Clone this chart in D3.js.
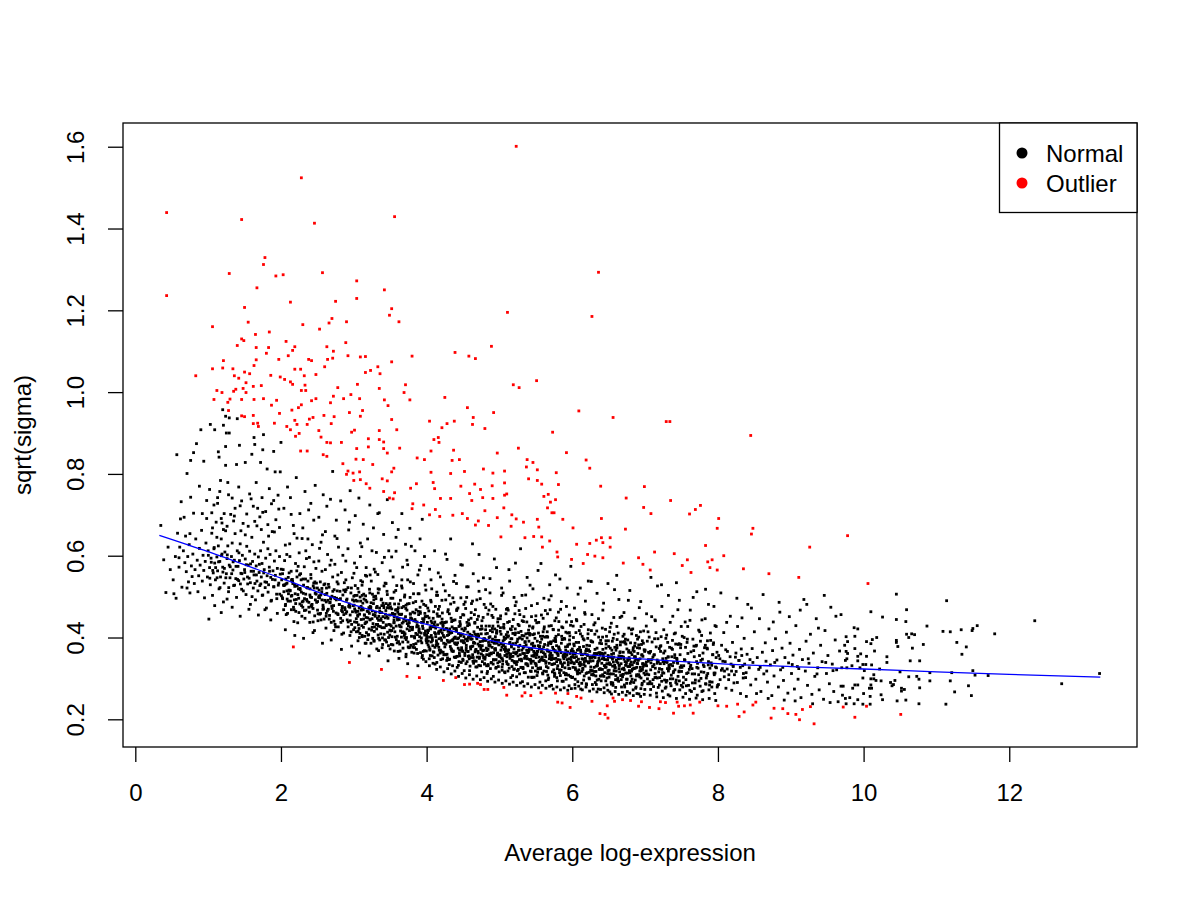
<!DOCTYPE html>
<html>
<head>
<meta charset="utf-8">
<script src="https://cdn.jsdelivr.net/npm/d3@7"></script>
<style>
  body { margin: 0; background: #fff; }
  svg { display: block; font-family: "Liberation Sans", Arial, Helvetica, sans-serif; }
</style>
</head>
<body>
<div id="chart"></div>
<script>
// plotSA style: sqrt(sigma) against average log-expression
// points are flat [x, y, x, y, ...] lists

const xTicks = [0, 2, 4, 6, 8, 10, 12];
const yTicks = [0.2, 0.4, 0.6, 0.8, 1.0, 1.2, 1.4, 1.6];
const xDomain = [-0.169, 13.754];
const yDomain = [0.1323, 1.658];

const legendLabels = ['Normal', 'Outlier'];
const legendColors = ['#000000', '#ff0000'];

const trendX = [0.33, 1, 2, 3, 4, 5, 6, 7, 8, 9, 10, 11, 12, 13.25];
const trendY = [.65, .61, .545, .48, .432, .388, .362, .347, .336, .329, .323, .316, .31, .303];

// normal genes, x < 2
const normalA = [
  0.35,.674, 0.39,.590, 0.42,.510, 0.57,.847, 0.56,.496, 0.71,.801, 0.63,.732, 0.62,.690, 0.60,.595, 0.60,.572,
  0.76,.833, 0.80,.852, 0.84,.874, 0.90,.908, 0.76,.743, 0.75,.654, 0.73,.536, 0.75,.509, 0.94,.831, 0.88,.770,
  0.80,.704, 1.01,.445, 1.03,.921, 1.09,.908, 1.14,.854, 1.15,.841, 1.20,.957, 1.24,.941, 1.21,.919, 1.25,.900,
  1.29,.900, 1.24,.867, 1.24,.821, 1.13,.742, 0.98,.735, 1.17,.784, 1.40,.935, 1.29,.937, 1.43,.870, 1.39,.823,
  1.51,.828, 1.63,.889, 1.64,.872, 1.76,.896, 1.72,.828, 1.60,.848, 1.75,.859, 1.90,.855, 2.00,.877, 1.81,.812,
  1.92,.805, 1.99,.805, 1.18,.691, 1.19,.680, 0.92,.703, 0.98,.691, 0.61,.621,
  0.66,.612, 0.68,.583, 0.70,.561, 0.72,.598, 0.74,.627, 0.77,.575, 0.78,.549, 0.79,.604, 0.81,.532, 0.82,.566,
  0.83,.641, 0.85,.589, 0.86,.512, 0.87,.551, 0.88,.618, 0.89,.577, 0.91,.662, 0.92,.538, 0.93,.601, 0.94,.564,
  0.95,.497, 0.96,.586, 0.97,.631, 0.99,.548, 1.00,.612, 1.02,.571, 1.03,.529, 1.04,.594, 1.05,.655, 1.06,.503,
  1.07,.558, 1.08,.617, 1.09,.582, 1.10,.541, 1.11,.682, 1.12,.597, 1.13,.563, 1.14,.624, 1.15,.519, 1.16,.586,
  1.17,.548, 1.18,.641, 1.19,.604, 1.20,.572, 1.21,.487, 1.22,.533, 1.23,.609, 1.24,.661, 1.25,.556, 1.26,.593,
  1.27,.624, 1.28,.512, 1.29,.577, 1.30,.546, 1.31,.701, 1.32,.598, 1.33,.631, 1.34,.565, 1.35,.527, 1.36,.589,
  1.37,.654, 1.38,.544, 1.39,.498, 1.40,.612, 1.41,.574, 1.42,.539, 1.43,.588, 1.44,.629, 1.45,.557, 1.46,.518,
  1.47,.601, 1.48,.679, 1.49,.543, 1.50,.566, 1.51,.592, 1.52,.505, 1.53,.623, 1.54,.548, 1.55,.577, 1.56,.469,
  1.57,.611, 1.58,.534, 1.59,.562, 1.60,.645, 1.61,.586, 1.62,.521, 1.63,.553, 1.64,.604, 1.65,.492, 1.66,.575,
  1.67,.538, 1.68,.716, 1.69,.597, 1.70,.559, 1.71,.527, 1.72,.612, 1.73,.548, 1.74,.581, 1.75,.504, 1.76,.633,
  1.77,.566, 1.78,.536, 1.79,.594, 1.80,.472, 1.81,.551, 1.82,.617, 1.83,.529, 1.84,.572, 1.85,.603, 1.86,.547,
  1.87,.491, 1.88,.659, 1.89,.563, 1.90,.524, 1.91,.587, 1.92,.541, 1.93,.612, 1.94,.506, 1.95,.569, 1.96,.748,
  1.97,.533, 1.98,.598, 1.99,.555,
  1.02,.762, 1.08,.724, 1.16,.757, 1.22,.703, 1.27,.779, 1.33,.741, 1.37,.716, 1.42,.768, 1.46,.734, 1.53,.702,
  1.57,.751, 1.62,.721, 1.66,.779, 1.71,.695, 1.74,.742, 1.79,.708, 1.84,.764, 1.87,.727, 1.93,.688, 1.97,.714,
  1.06,.668, 1.12,.645, 1.26,.672, 1.35,.685, 1.45,.661, 1.55,.672, 1.64,.684, 1.73,.664, 1.82,.676, 1.91,.658,
  1.09,.478, 1.18,.461, 1.33,.474, 1.44,.452, 1.58,.481, 1.69,.455, 1.78,.468, 1.86,.443, 1.95,.459, 1.26,.494,
  0.45,.621, 0.48,.566, 0.52,.541, 0.55,.598, 0.58,.655, 0.64,.523, 0.67,.694, 0.69,.648, 0.71,.521, 0.53,.507
];

// normal genes, 2 to 4
const normalB = [
  2.01,.541, 2.02,.497, 2.03,.566, 2.04,.512, 2.05,.588, 2.06,.478, 2.07,.531, 2.08,.603, 2.09,.459, 2.10,.547,
  2.11,.516, 2.12,.629, 2.13,.489, 2.14,.562, 2.15,.503, 2.16,.537, 2.17,.674, 2.18,.468, 2.19,.525, 2.20,.581,
  2.21,.493, 2.22,.548, 2.23,.436, 2.24,.519, 2.25,.607, 2.26,.482, 2.27,.556, 2.28,.511, 2.29,.642, 2.30,.474,
  2.31,.528, 2.32,.573, 2.33,.447, 2.34,.506, 2.35,.593, 2.36,.489, 2.37,.538, 2.38,.712, 2.39,.462, 2.40,.519,
  2.41,.554, 2.42,.498, 2.43,.627, 2.44,.471, 2.45,.533, 2.46,.417, 2.47,.508, 2.48,.569, 2.49,.486, 2.50,.521,
  2.51,.458, 2.52,.587, 2.53,.497, 2.54,.536, 2.55,.443, 2.56,.512, 2.57,.651, 2.58,.474, 2.59,.529, 2.60,.491,
  2.61,.566, 2.62,.452, 2.63,.508, 2.64,.603, 2.65,.469, 2.66,.523, 2.67,.485, 2.68,.738, 2.69,.437, 2.70,.501,
  2.71,.548, 2.72,.464, 2.73,.517, 2.74,.579, 2.75,.426, 2.76,.492, 2.77,.536, 2.78,.458, 2.79,.621, 2.80,.481,
  2.81,.513, 2.82,.447, 2.83,.559, 2.84,.472, 2.85,.504, 2.86,.411, 2.87,.534, 2.88,.468, 2.89,.587, 2.90,.491,
  2.91,.443, 2.92,.522, 2.93,.476, 2.94,.682, 2.95,.455, 2.96,.509, 2.97,.432, 2.98,.546, 2.99,.478, 3.00,.501,
  3.01,.438, 3.02,.527, 3.03,.462, 3.04,.571, 3.05,.489, 3.06,.415, 3.07,.511, 3.08,.457, 3.09,.598, 3.10,.476,
  3.11,.429, 3.12,.536, 3.13,.468, 3.14,.494, 3.15,.403, 3.16,.552, 3.17,.449, 3.18,.487, 3.19,.641, 3.20,.463,
  3.21,.421, 3.22,.509, 3.23,.472, 3.24,.538, 3.25,.446, 3.26,.398, 3.27,.483, 3.28,.567, 3.29,.455, 3.30,.501,
  3.31,.432, 3.32,.476, 3.33,.703, 3.34,.442, 3.35,.518, 3.36,.461, 3.37,.409, 3.38,.494, 3.39,.583, 3.40,.451,
  3.41,.478, 3.42,.424, 3.43,.533, 3.44,.466, 3.45,.389, 3.46,.505, 3.47,.447, 3.48,.612, 3.49,.472, 3.50,.431,
  3.51,.496, 3.52,.417, 3.53,.459, 3.54,.548, 3.55,.436, 3.56,.482, 3.57,.401, 3.58,.468, 3.59,.527, 3.60,.443,
  3.61,.664, 3.62,.457, 3.63,.384, 3.64,.491, 3.65,.426, 3.66,.473, 3.67,.572, 3.68,.438, 3.69,.412, 3.70,.504,
  3.71,.451, 3.72,.395, 3.73,.467, 3.74,.541, 3.75,.429, 3.76,.483, 3.77,.376, 3.78,.448, 3.79,.623, 3.80,.419,
  3.81,.462, 3.82,.507, 3.83,.402, 3.84,.444, 3.85,.488, 3.86,.371, 3.87,.431, 3.88,.553, 3.89,.456, 3.90,.413,
  3.91,.474, 3.92,.392, 3.93,.437, 3.94,.689, 3.95,.422, 3.96,.481, 3.97,.368, 3.98,.451, 3.99,.516, 4.00,.406,
  2.04,.716, 2.09,.768, 2.13,.742, 2.21,.791, 2.26,.703, 2.33,.757, 2.41,.728, 2.47,.772, 2.52,.694, 2.58,.749,
  2.63,.721, 2.71,.806, 2.76,.687, 2.82,.734, 2.88,.712, 2.95,.759, 3.02,.698, 3.07,.741, 3.13,.677, 3.22,.724,
  3.27,.668, 3.35,.705, 3.41,.652, 3.46,.737, 3.53,.681, 3.58,.645, 3.66,.703, 3.71,.628, 3.77,.667, 3.84,.612,
  3.91,.641, 3.97,.598, 2.18,.654, 2.37,.641, 2.55,.633, 2.74,.648, 2.92,.617, 3.11,.622, 3.31,.608, 3.52,.597,
  3.73,.589, 3.92,.576,
  2.06,.419, 2.19,.405, 2.31,.398, 2.44,.412, 2.57,.386, 2.69,.394, 2.83,.371, 2.97,.379, 3.08,.362, 3.21,.355,
  3.34,.368, 3.47,.343, 3.62,.349, 3.74,.336, 3.88,.331, 3.99,.341,
  2.035,.528, 2.085,.494, 2.145,.541, 2.195,.507, 2.255,.553, 2.305,.489, 2.355,.522, 2.415,.478, 2.465,.536, 2.525,.502,
  2.575,.469, 2.625,.521, 2.675,.486, 2.735,.498, 2.785,.531, 2.845,.463, 2.895,.517, 2.945,.474, 3.005,.489, 3.055,.452,
  3.115,.503, 3.165,.437, 3.225,.476, 3.275,.492, 3.335,.428, 3.385,.461, 3.445,.483, 3.495,.418, 3.555,.451, 3.605,.469,
  3.665,.412, 3.715,.441, 3.775,.458, 3.835,.399, 3.885,.427, 3.945,.446, 3.995,.392,
  2.072,.456, 2.123,.598, 2.178,.439, 2.236,.574, 2.287,.452, 2.341,.612, 2.396,.437, 2.452,.585, 2.508,.441, 2.563,.562,
  2.618,.423, 2.673,.577, 2.727,.417, 2.781,.553, 2.836,.408, 2.891,.541, 2.947,.405, 3.002,.557, 3.058,.392, 3.113,.528,
  3.168,.386, 3.224,.553, 3.279,.391, 3.334,.519, 3.389,.375, 3.443,.532, 3.498,.372, 3.553,.511, 3.608,.366, 3.663,.521,
  3.718,.359, 3.773,.498, 3.828,.362, 3.883,.507, 3.937,.351, 3.989,.478
];

// normal genes, 4 to 6
const normalC = [
  4.01,.437, 4.02,.382, 4.03,.465, 4.04,.401, 4.05,.356, 4.06,.428, 4.07,.519, 4.08,.393, 4.09,.447, 4.10,.364,
  4.11,.412, 4.12,.476, 4.13,.381, 4.14,.339, 4.15,.431, 4.16,.558, 4.17,.397, 4.18,.452, 4.19,.369, 4.20,.418,
  4.21,.491, 4.22,.348, 4.23,.405, 4.24,.436, 4.25,.377, 4.26,.604, 4.27,.422, 4.28,.359, 4.29,.463, 4.30,.389,
  4.31,.334, 4.32,.411, 4.33,.482, 4.34,.371, 4.35,.426, 4.36,.395, 4.37,.537, 4.38,.352, 4.39,.443, 4.40,.384,
  4.41,.416, 4.42,.327, 4.43,.472, 4.44,.399, 4.45,.361, 4.46,.429, 4.47,.578, 4.48,.375, 4.49,.408, 4.50,.344,
  4.51,.455, 4.52,.387, 4.53,.421, 4.54,.336, 4.55,.498, 4.56,.392, 4.57,.366, 4.58,.434, 4.59,.319, 4.60,.403,
  4.61,.447, 4.62,.378, 4.63,.629, 4.64,.351, 4.65,.414, 4.66,.386, 4.67,.468, 4.68,.342, 4.69,.397, 4.70,.425,
  4.71,.362, 4.72,.513, 4.73,.381, 4.74,.331, 4.75,.409, 4.76,.441, 4.77,.368, 4.78,.546, 4.79,.393, 4.80,.347,
  4.81,.419, 4.82,.374, 4.83,.312, 4.84,.457, 4.85,.388, 4.86,.356, 4.87,.402, 4.88,.482, 4.89,.339, 4.90,.376,
  4.91,.428, 4.92,.363, 4.93,.592, 4.94,.394, 4.95,.325, 4.96,.411, 4.97,.357, 4.98,.446, 4.99,.382, 5.00,.341,
  5.01,.415, 5.02,.369, 5.03,.503, 5.04,.348, 5.05,.392, 5.06,.432, 5.07,.316, 5.08,.377, 5.09,.458, 5.10,.359,
  5.11,.401, 5.12,.334, 5.13,.566, 5.14,.386, 5.15,.421, 5.16,.353, 5.17,.397, 5.18,.307, 5.19,.444, 5.20,.372,
  5.21,.338, 5.22,.411, 5.23,.487, 5.24,.364, 5.25,.396, 5.26,.322, 5.27,.429, 5.28,.381, 5.29,.617, 5.30,.347,
  5.31,.405, 5.32,.361, 5.33,.439, 5.34,.314, 5.35,.388, 5.36,.471, 5.37,.354, 5.38,.399, 5.39,.331, 5.40,.418,
  5.41,.372, 5.42,.528, 5.43,.343, 5.44,.384, 5.45,.302, 5.46,.426, 5.47,.366, 5.48,.409, 5.49,.337, 5.50,.453,
  5.51,.358, 5.52,.391, 5.53,.323, 5.54,.437, 5.55,.374, 5.56,.344, 5.57,.581, 5.58,.396, 5.59,.352, 5.60,.414,
  5.61,.318, 5.62,.383, 5.63,.466, 5.64,.341, 5.65,.402, 5.66,.367, 5.67,.297, 5.68,.428, 5.69,.355, 5.70,.389,
  5.71,.502, 5.72,.334, 5.73,.376, 5.74,.419, 5.75,.348, 5.76,.311, 5.77,.395, 5.78,.448, 5.79,.362, 5.80,.331,
  5.81,.407, 5.82,.371, 5.83,.543, 5.84,.339, 5.85,.386, 5.86,.293, 5.87,.424, 5.88,.357, 5.89,.398, 5.90,.326,
  5.91,.369, 5.92,.476, 5.93,.346, 5.94,.382, 5.95,.308, 5.96,.412, 5.97,.361, 5.98,.338, 5.99,.439, 6.00,.372,
  4.005,.398, 4.025,.417, 4.045,.372, 4.065,.389, 4.085,.426, 4.105,.351, 4.125,.402, 4.145,.381, 4.165,.414, 4.185,.362,
  4.205,.393, 4.225,.427, 4.245,.358, 4.265,.384, 4.285,.405, 4.305,.346, 4.325,.378, 4.345,.412, 4.365,.367, 4.385,.398,
  4.405,.353, 4.425,.387, 4.445,.341, 4.465,.404, 4.485,.369, 4.505,.392, 4.525,.356, 4.545,.381, 4.565,.413, 4.585,.348,
  4.605,.372, 4.625,.396, 4.645,.337, 4.665,.365, 4.685,.401, 4.705,.384, 4.725,.352, 4.745,.377, 4.765,.341, 4.785,.369,
  4.805,.394, 4.825,.358, 4.845,.331, 4.865,.379, 4.885,.362, 4.905,.396, 4.925,.345, 4.945,.373, 4.965,.386, 4.985,.329,
  5.005,.357, 5.025,.384, 5.045,.343, 5.065,.371, 5.085,.398, 5.105,.336, 5.125,.362, 5.145,.349, 5.165,.377, 5.185,.354,
  5.205,.323, 5.225,.386, 5.245,.341, 5.265,.369, 5.285,.358, 5.305,.327, 5.325,.374, 5.345,.349, 5.365,.336, 5.385,.363,
  5.405,.391, 5.425,.318, 5.445,.355, 5.465,.342, 5.485,.379, 5.505,.331, 5.525,.366, 5.545,.352, 5.565,.326, 5.585,.371,
  5.605,.344, 5.625,.359, 5.645,.317, 5.665,.381, 5.685,.337, 5.705,.362, 5.725,.349, 5.745,.321, 5.765,.368, 5.785,.341,
  5.805,.356, 5.825,.314, 5.845,.363, 5.865,.334, 5.885,.348, 5.905,.309, 5.925,.357, 5.945,.339, 5.965,.324, 5.985,.352,
  4.012,.452, 4.038,.331, 4.062,.487, 4.088,.337, 4.112,.438, 4.138,.322, 4.162,.469, 4.188,.328, 4.212,.445, 4.238,.316,
  4.262,.492, 4.288,.324, 4.312,.458, 4.338,.311, 4.362,.442, 4.388,.318, 4.412,.466, 4.438,.305, 4.462,.433, 4.488,.312,
  4.512,.481, 4.538,.301, 4.562,.429, 4.588,.309, 4.612,.461, 4.638,.298, 4.662,.437, 4.688,.306, 4.712,.452, 4.738,.297,
  4.762,.421, 4.788,.302, 4.812,.473, 4.838,.293, 4.862,.428, 4.888,.299, 4.912,.449, 4.938,.291, 4.962,.417, 4.988,.296,
  5.012,.446, 5.038,.288, 5.062,.423, 5.088,.294, 5.112,.437, 5.138,.286, 5.162,.419, 5.188,.291, 5.212,.458, 5.238,.283,
  5.262,.412, 5.288,.289, 5.312,.441, 5.338,.281, 5.362,.409, 5.388,.287, 5.412,.428, 5.438,.279, 5.462,.407, 5.488,.285,
  5.512,.436, 5.538,.277, 5.562,.403, 5.588,.283, 5.612,.421, 5.638,.276, 5.662,.401, 5.688,.281, 5.712,.429, 5.738,.274,
  5.762,.398, 5.788,.279, 5.812,.418, 5.838,.272, 5.862,.396, 5.888,.277, 5.912,.413, 5.938,.271, 5.962,.394, 5.988,.275,
  4.04,.567, 4.11,.612, 4.19,.548, 4.28,.591, 4.33,.641, 4.41,.532, 4.49,.577, 4.57,.524, 4.64,.556, 4.72,.603,
  4.81,.517, 4.87,.544, 4.96,.571, 5.05,.509, 5.14,.538, 5.22,.582, 5.31,.503, 5.38,.547, 5.46,.519, 5.53,.564,
  5.61,.496, 5.69,.529, 5.77,.553, 5.85,.488, 5.93,.521, 5.98,.574, 4.15,.503, 4.36,.497, 4.53,.487, 4.69,.492,
  4.91,.476, 5.11,.471, 5.27,.466, 5.44,.478, 5.66,.458, 5.81,.462, 5.96,.455
];

// normal genes, 6 to 8
const normalD = [
  6.01,.327, 6.02,.384, 6.03,.351, 6.04,.298, 6.05,.412, 6.06,.343, 6.07,.369, 6.08,.506, 6.09,.321, 6.10,.376,
  6.11,.339, 6.12,.427, 6.13,.288, 6.14,.358, 6.15,.397, 6.16,.334, 6.17,.461, 6.18,.349, 6.19,.312, 6.20,.381,
  6.21,.356, 6.22,.419, 6.23,.301, 6.24,.366, 6.25,.342, 6.26,.537, 6.27,.318, 6.28,.389, 6.29,.353, 6.30,.327,
  6.31,.408, 6.32,.361, 6.33,.285, 6.34,.374, 6.35,.339, 6.36,.446, 6.37,.322, 6.38,.357, 6.39,.393, 6.40,.306,
  6.41,.348, 6.42,.371, 6.43,.484, 6.44,.331, 6.45,.362, 6.46,.294, 6.47,.403, 6.48,.345, 6.49,.319, 6.50,.378,
  6.51,.338, 6.52,.425, 6.53,.311, 6.54,.359, 6.55,.391, 6.56,.283, 6.57,.352, 6.58,.517, 6.59,.326, 6.60,.369,
  6.61,.341, 6.62,.297, 6.63,.411, 6.64,.355, 6.65,.316, 6.66,.382, 6.67,.336, 6.68,.452, 6.69,.304, 6.70,.364,
  6.71,.347, 6.72,.279, 6.73,.396, 6.74,.333, 6.75,.372, 6.76,.313, 6.77,.491, 6.78,.351, 6.79,.329, 6.80,.387,
  6.81,.292, 6.82,.358, 6.83,.421, 6.84,.324, 6.85,.366, 6.86,.343, 6.87,.276, 6.88,.405, 6.89,.337, 6.90,.361,
  6.91,.309, 6.92,.473, 6.93,.348, 6.94,.321, 6.95,.383, 6.96,.288, 6.97,.354, 6.98,.416, 6.99,.332, 7.00,.369,
  7.015,.318, 7.03,.391, 7.045,.342, 7.06,.287, 7.075,.366, 7.09,.451, 7.105,.329, 7.12,.357, 7.135,.302, 7.15,.412,
  7.165,.345, 7.18,.278, 7.195,.373, 7.21,.336, 7.225,.529, 7.24,.314, 7.255,.362, 7.27,.341, 7.285,.398, 7.30,.295,
  7.315,.352, 7.33,.327, 7.345,.437, 7.36,.308, 7.375,.371, 7.39,.339, 7.405,.273, 7.42,.384, 7.435,.349, 7.45,.468,
  7.465,.316, 7.48,.358, 7.495,.331, 7.51,.403, 7.525,.289, 7.54,.346, 7.555,.376, 7.57,.312, 7.585,.427, 7.60,.338,
  7.615,.271, 7.63,.365, 7.645,.324, 7.66,.498, 7.675,.353, 7.69,.296, 7.705,.381, 7.72,.337, 7.735,.309, 7.75,.414,
  7.765,.344, 7.78,.268, 7.795,.362, 7.81,.329, 7.825,.446, 7.84,.301, 7.855,.372, 7.87,.341, 7.885,.284, 7.90,.393,
  7.915,.332, 7.93,.358, 7.945,.476, 7.96,.313, 7.975,.351, 7.99,.279,
  6.005,.353, 6.025,.336, 6.045,.362, 6.065,.318, 6.085,.347, 6.105,.331, 6.125,.358, 6.145,.322, 6.165,.341, 6.185,.367,
  6.205,.314, 6.225,.338, 6.245,.352, 6.265,.309, 6.285,.343, 6.305,.361, 6.325,.317, 6.345,.331, 6.365,.349, 6.385,.306,
  6.405,.337, 6.425,.355, 6.445,.314, 6.465,.328, 6.485,.346, 6.505,.303, 6.525,.334, 6.545,.351, 6.565,.311, 6.585,.327,
  6.605,.345, 6.625,.301, 6.645,.332, 6.665,.349, 6.685,.309, 6.705,.325, 6.725,.341, 6.745,.298, 6.765,.329, 6.785,.347,
  6.805,.306, 6.825,.322, 6.845,.339, 6.865,.296, 6.885,.327, 6.905,.344, 6.925,.304, 6.945,.319, 6.965,.336, 6.985,.293,
  7.02,.331, 7.05,.309, 7.08,.338, 7.11,.297, 7.14,.325, 7.17,.341, 7.20,.302, 7.23,.322, 7.26,.336, 7.29,.291,
  7.32,.318, 7.35,.334, 7.38,.299, 7.41,.321, 7.44,.339, 7.47,.294, 7.50,.317, 7.53,.331, 7.56,.297, 7.59,.314,
  7.62,.328, 7.65,.289, 7.68,.311, 7.71,.327, 7.74,.294, 7.77,.316, 7.80,.333, 7.83,.287, 7.86,.312, 7.89,.325,
  7.92,.291, 7.95,.309, 7.98,.326,
  6.012,.428, 6.038,.276, 6.062,.441, 6.088,.281, 6.112,.409, 6.138,.272, 6.162,.432, 6.188,.279, 6.212,.398, 6.238,.269,
  6.262,.417, 6.288,.274, 6.312,.436, 6.338,.267, 6.362,.401, 6.388,.273, 6.412,.423, 6.438,.265, 6.462,.392, 6.488,.271,
  6.512,.414, 6.538,.262, 6.562,.398, 6.588,.268, 6.612,.427, 6.638,.261, 6.662,.389, 6.688,.266, 6.712,.408, 6.738,.259,
  6.762,.394, 6.788,.264, 6.812,.419, 6.838,.258, 6.862,.386, 6.888,.263, 6.912,.401, 6.938,.256, 6.962,.392, 6.988,.261,
  7.04,.414, 7.07,.259, 7.13,.397, 7.16,.255, 7.22,.402, 7.25,.253, 7.31,.388, 7.34,.257, 7.40,.409, 7.43,.251,
  7.49,.383, 7.52,.254, 7.58,.396, 7.61,.249, 7.67,.379, 7.70,.252, 7.76,.391, 7.79,.248, 7.85,.374, 7.88,.251,
  7.94,.387, 7.97,.246,
  6.03,.472, 6.11,.521, 6.18,.489, 6.27,.456, 6.34,.508, 6.42,.467, 6.49,.532, 6.57,.449, 6.64,.493, 6.71,.461,
  6.79,.515, 6.86,.447, 6.94,.488, 7.02,.458, 7.08,.547, 7.14,.441, 7.23,.476, 7.32,.503, 7.38,.452, 7.47,.491,
  7.55,.438, 7.62,.467, 7.71,.512, 7.78,.443, 7.87,.481, 7.96,.429, 6.22,.538, 6.61,.552, 7.17,.526, 7.43,.534,
  7.83,.518
];

// normal genes, 8 to 9.7
const normalE = [
  8.01,.356, 8.03,.297, 8.05,.381, 8.06,.324, 8.08,.412, 8.10,.341, 8.11,.276, 8.13,.366, 8.15,.309, 8.17,.452,
  8.18,.335, 8.20,.388, 8.22,.289, 8.24,.352, 8.25,.317, 8.27,.427, 8.29,.344, 8.31,.263, 8.32,.372, 8.34,.331,
  8.36,.398, 8.38,.302, 8.40,.359, 8.41,.481, 8.43,.326, 8.45,.284, 8.47,.373, 8.48,.339, 8.50,.414, 8.52,.298,
  8.54,.351, 8.56,.322, 8.57,.446, 8.59,.268, 8.61,.364, 8.63,.311, 8.65,.387, 8.66,.342, 8.68,.291, 8.70,.421,
  8.72,.333, 8.74,.258, 8.75,.368, 8.77,.306, 8.79,.397, 8.81,.345, 8.83,.279, 8.85,.462, 8.86,.321, 8.88,.374,
  8.90,.295, 8.92,.351, 8.94,.413, 8.96,.264, 8.97,.338, 8.99,.386, 9.01,.312, 9.03,.357, 9.05,.274, 9.07,.429,
  9.09,.329, 9.10,.298, 9.12,.371, 9.14,.253, 9.16,.346, 9.18,.493, 9.20,.318, 9.21,.391, 9.23,.283, 9.25,.337,
  9.27,.408, 9.29,.261, 9.31,.362, 9.33,.305, 9.35,.446, 9.37,.326, 9.39,.272, 9.41,.381, 9.43,.341, 9.45,.249,
  9.47,.417, 9.49,.312, 9.51,.356, 9.53,.287, 9.55,.474, 9.57,.335, 9.59,.268, 9.61,.394, 9.63,.321, 9.65,.243,
  9.67,.367,
  8.04,.509, 8.12,.437, 8.19,.271, 8.26,.496, 8.33,.448, 8.39,.256, 8.46,.472, 8.53,.263, 8.62,.505, 8.69,.251,
  8.76,.438, 8.84,.486, 8.91,.247, 8.98,.451, 9.06,.245, 9.13,.467, 9.22,.481, 9.30,.238, 9.38,.423, 9.46,.503,
  9.54,.241, 9.62,.452, 8.09,.318, 8.21,.329, 8.35,.312, 8.44,.346, 8.58,.327, 8.67,.318, 8.78,.339, 8.89,.327,
  9.02,.334, 9.11,.324, 9.24,.348, 9.36,.311, 9.48,.339, 9.58,.319
];

// normal genes, right tail
const normalF = [
  10.45,.506, 11.14,.490, 10.10,.463, 10.59,.468, 9.69,.456, 10.26,.450, 10.45,.444, 10.58,.439, 12.35,.441, 10.87,.428,
  11.56,.429, 11.50,.422, 11.49,.417, 11.34,.419, 11.09,.415, 11.19,.414, 11.80,.409, 9.87,.424, 9.92,.421, 10.59,.408,
  10.66,.409, 10.70,.407, 9.88,.403, 9.76,.402, 10.18,.400, 10.12,.395, 10.45,.393, 10.45,.388, 10.62,.400, 11.28,.388,
  10.82,.383, 10.04,.390, 9.78,.390, 10.10,.385, 9.74,.381, 11.41,.377, 10.47,.378, 10.67,.374, 9.88,.373, 10.15,.367,
  9.76,.366, 9.78,.361, 11.35,.359, 9.96,.360, 9.92,.354, 10.04,.354, 10.32,.353, 9.77,.348, 9.75,.344, 9.92,.343,
  10.64,.343, 10.77,.343, 10.32,.339, 9.99,.334, 10.03,.334, 10.11,.333, 9.84,.331, 9.95,.326, 9.70,.326, 9.77,.326,
  10.01,.319, 10.22,.323, 10.50,.316, 10.91,.314, 11.21,.314, 11.50,.319, 11.53,.308, 11.71,.307, 13.24,.312, 12.72,.287,
  10.14,.309, 9.99,.301, 10.10,.299, 10.14,.299, 10.62,.304, 10.73,.305, 10.17,.295, 10.43,.295, 10.37,.290, 10.24,.294,
  10.39,.282, 10.76,.298, 10.91,.294, 11.19,.294, 9.69,.281, 9.72,.281, 9.85,.276, 9.88,.284, 9.92,.284, 10.08,.276,
  10.10,.284, 10.11,.276, 10.52,.276, 10.56,.273, 10.52,.269, 10.77,.277, 11.44,.282, 11.25,.267, 11.48,.258, 9.71,.259,
  9.75,.251, 9.81,.253, 9.92,.248, 10.00,.263, 10.09,.256, 10.24,.260, 10.26,.248, 10.46,.245, 10.58,.247, 9.87,.238,
  9.76,.238, 9.99,.237, 10.09,.237, 10.76,.238, 11.13,.237, 10.41,.285
];

// dense core of normal genes, 1 to 8.4
const normalCore = [
  1.003,.601, 1.023,.545, 1.043,.584, 1.063,.564, 1.083,.620, 1.103,.571, 1.123,.546, 1.143,.585, 1.163,.522, 1.183,.600,
  1.203,.560, 1.223,.569, 1.243,.546, 1.263,.602, 1.283,.522, 1.303,.573, 1.323,.556, 1.343,.585, 1.363,.528, 1.383,.574,
  1.403,.542, 1.423,.607, 1.443,.531, 1.463,.556, 1.483,.514, 1.503,.559, 1.523,.578, 1.543,.531, 1.563,.545, 1.583,.580,
  1.603,.500, 1.623,.562, 1.643,.532, 1.663,.553, 1.683,.514, 1.703,.579, 1.723,.531, 1.743,.503, 1.763,.558, 1.783,.522,
  1.803,.535, 1.823,.511, 1.843,.562, 1.863,.489, 1.883,.542, 1.903,.524, 1.923,.552, 1.943,.495, 1.963,.528, 1.983,.506,
  2.003,.567, 2.023,.495, 2.043,.527, 2.063,.481, 2.083,.533, 2.103,.507, 2.123,.514, 2.143,.468, 2.163,.532, 2.183,.492,
  2.203,.464, 2.223,.526, 2.243,.496, 2.263,.517, 2.283,.478, 2.303,.543, 2.323,.495, 2.343,.467, 2.363,.522, 2.383,.486,
  2.403,.499, 2.423,.475, 2.443,.526, 2.463,.453, 2.483,.506, 2.503,.488, 2.523,.516, 2.543,.459, 2.563,.492, 2.583,.470,
  2.603,.531, 2.623,.459, 2.643,.491, 2.663,.445, 2.683,.497, 2.703,.471, 2.723,.478, 2.743,.432, 2.763,.496, 2.783,.456,
  2.803,.493, 2.823,.437, 2.843,.476, 2.863,.456, 2.883,.512, 2.903,.463, 2.923,.438, 2.943,.477, 2.963,.414, 2.983,.492,
  3.004,.479, 3.014,.424, 3.024,.465, 3.034,.446, 3.044,.503, 3.054,.455, 3.064,.431, 3.074,.472, 3.084,.410, 3.094,.489,
  3.104,.467, 3.114,.405, 3.124,.484, 3.134,.445, 3.144,.455, 3.154,.434, 3.164,.491, 3.174,.412, 3.184,.464, 3.194,.448,
  3.204,.407, 3.214,.459, 3.224,.443, 3.234,.474, 3.244,.418, 3.254,.465, 3.264,.434, 3.274,.500, 3.284,.426, 3.294,.452,
  3.304,.495, 3.314,.421, 3.324,.447, 3.334,.406, 3.344,.452, 3.354,.472, 3.364,.427, 3.374,.442, 3.384,.478, 3.394,.399,
  3.404,.437, 3.414,.473, 3.424,.394, 3.434,.457, 3.444,.429, 3.454,.451, 3.464,.413, 3.474,.479, 3.484,.432, 3.494,.406,
  3.504,.475, 3.514,.428, 3.524,.402, 3.534,.458, 3.544,.423, 3.554,.437, 3.564,.414, 3.574,.467, 3.584,.395, 3.594,.449,
  3.604,.462, 3.614,.390, 3.624,.444, 3.634,.427, 3.644,.456, 3.654,.401, 3.664,.435, 3.674,.414, 3.684,.476, 3.694,.405,
  3.704,.409, 3.714,.471, 3.724,.400, 3.734,.434, 3.744,.389, 3.754,.442, 3.764,.417, 3.774,.425, 3.784,.381, 3.794,.446,
  3.804,.420, 3.814,.376, 3.824,.441, 3.834,.402, 3.844,.440, 3.854,.385, 3.864,.426, 3.874,.407, 3.884,.464, 3.894,.416,
  3.904,.402, 3.914,.459, 3.924,.411, 3.934,.387, 3.944,.428, 3.954,.366, 3.964,.445, 3.974,.406, 3.984,.416, 3.994,.395,
  4.004,.402, 4.014,.412, 4.024,.391, 4.034,.448, 4.044,.369, 4.054,.421, 4.064,.405, 4.074,.436, 4.084,.380, 4.094,.427,
  4.104,.432, 4.114,.376, 4.124,.423, 4.134,.392, 4.144,.458, 4.154,.384, 4.164,.410, 4.174,.369, 4.184,.415, 4.194,.435,
  4.204,.365, 4.214,.411, 4.224,.431, 4.234,.386, 4.244,.401, 4.254,.437, 4.264,.358, 4.274,.421, 4.284,.393, 4.294,.415,
  4.304,.417, 4.314,.389, 4.324,.411, 4.334,.373, 4.344,.439, 4.354,.392, 4.364,.366, 4.374,.422, 4.384,.387, 4.394,.401,
  4.404,.418, 4.414,.383, 4.424,.397, 4.434,.374, 4.444,.427, 4.454,.355, 4.464,.409, 4.474,.392, 4.484,.421, 4.494,.366,
  4.504,.388, 4.514,.417, 4.524,.362, 4.534,.396, 4.544,.375, 4.554,.437, 4.564,.366, 4.574,.400, 4.584,.355, 4.594,.408,
  4.604,.396, 4.614,.351, 4.624,.404, 4.634,.379, 4.644,.387, 4.654,.343, 4.664,.408, 4.674,.369, 4.684,.407, 4.694,.352,
  4.704,.366, 4.714,.404, 4.724,.349, 4.734,.390, 4.744,.371, 4.754,.428, 4.764,.380, 4.774,.356, 4.784,.397, 4.794,.335,
  4.804,.352, 4.814,.393, 4.824,.331, 4.834,.410, 4.844,.371, 4.854,.381, 4.864,.360, 4.874,.417, 4.884,.338, 4.894,.390,
  4.904,.414, 4.914,.335, 4.924,.387, 4.934,.371, 4.944,.402, 4.954,.346, 4.964,.393, 4.974,.362, 4.984,.428, 4.994,.354,
  5.004,.358, 5.014,.424, 5.024,.350, 5.034,.376, 5.044,.335, 5.054,.381, 5.064,.401, 5.074,.356, 5.084,.371, 5.094,.407,
  5.104,.353, 5.114,.368, 5.124,.404, 5.134,.325, 5.144,.388, 5.154,.360, 5.164,.382, 5.174,.344, 5.184,.410, 5.194,.363,
  5.204,.341, 5.214,.407, 5.224,.360, 5.234,.334, 5.244,.390, 5.254,.355, 5.264,.369, 5.274,.346, 5.284,.399, 5.294,.327,
  5.304,.343, 5.314,.396, 5.324,.324, 5.334,.378, 5.344,.361, 5.354,.390, 5.364,.335, 5.374,.369, 5.384,.348, 5.394,.410,
  5.404,.367, 5.414,.346, 5.424,.408, 5.434,.337, 5.444,.371, 5.454,.326, 5.464,.379, 5.474,.354, 5.484,.362, 5.494,.318,
  5.504,.351, 5.514,.359, 5.524,.315, 5.534,.380, 5.544,.341, 5.554,.379, 5.564,.324, 5.574,.365, 5.584,.346, 5.594,.403,
  5.604,.363, 5.614,.344, 5.624,.401, 5.634,.353, 5.644,.329, 5.654,.370, 5.664,.308, 5.674,.387, 5.684,.348, 5.694,.358,
  5.704,.385, 5.714,.346, 5.724,.356, 5.734,.335, 5.744,.392, 5.754,.313, 5.764,.365, 5.774,.349, 5.784,.380, 5.794,.324,
  5.804,.346, 5.814,.377, 5.824,.321, 5.834,.368, 5.844,.337, 5.854,.403, 5.864,.329, 5.874,.355, 5.884,.314, 5.894,.360,
  5.904,.353, 5.914,.312, 5.924,.358, 5.934,.378, 5.944,.333, 5.954,.348, 5.964,.384, 5.974,.305, 5.984,.368, 5.994,.340,
  6.004,.303, 6.014,.366, 6.024,.338, 6.034,.360, 6.044,.322, 6.054,.388, 6.064,.341, 6.074,.315, 6.084,.371, 6.094,.336,
  6.104,.313, 6.114,.369, 6.124,.334, 6.134,.348, 6.144,.325, 6.154,.378, 6.164,.306, 6.174,.360, 6.184,.343, 6.194,.372,
  6.204,.358, 6.214,.341, 6.224,.370, 6.234,.315, 6.244,.349, 6.254,.328, 6.264,.390, 6.274,.319, 6.284,.353, 6.294,.308,
  6.304,.317, 6.314,.351, 6.324,.306, 6.334,.359, 6.344,.334, 6.354,.342, 6.364,.298, 6.374,.363, 6.384,.324, 6.394,.362,
  6.404,.361, 6.414,.322, 6.424,.360, 6.434,.305, 6.444,.346, 6.454,.327, 6.464,.384, 6.474,.336, 6.484,.312, 6.494,.353,
  6.504,.335, 6.514,.311, 6.524,.352, 6.534,.290, 6.544,.369, 6.554,.330, 6.564,.340, 6.574,.319, 6.584,.376, 6.594,.297,
  6.604,.318, 6.614,.375, 6.624,.296, 6.634,.348, 6.644,.332, 6.654,.363, 6.664,.307, 6.674,.354, 6.684,.323, 6.694,.389,
  6.704,.352, 6.714,.321, 6.724,.387, 6.734,.313, 6.744,.339, 6.754,.298, 6.764,.344, 6.774,.364, 6.784,.319, 6.794,.334,
  6.804,.363, 6.814,.318, 6.824,.333, 6.834,.369, 6.844,.290, 6.854,.353, 6.864,.325, 6.874,.347, 6.884,.309, 6.894,.375,
  6.904,.346, 6.914,.308, 6.924,.374, 6.934,.327, 6.944,.301, 6.954,.357, 6.964,.322, 6.974,.336, 6.984,.313, 6.994,.366,
  7.007,.334, 7.027,.311, 7.047,.364, 7.067,.292, 7.087,.346, 7.107,.329, 7.127,.358, 7.147,.303, 7.167,.337, 7.187,.316,
  7.207,.378, 7.227,.307, 7.247,.341, 7.267,.296, 7.287,.349, 7.307,.324, 7.327,.332, 7.347,.288, 7.367,.353, 7.387,.314,
  7.407,.351, 7.427,.296, 7.447,.337, 7.467,.318, 7.487,.375, 7.507,.327, 7.527,.303, 7.547,.344, 7.567,.282, 7.587,.361,
  7.607,.322, 7.627,.332, 7.647,.311, 7.667,.368, 7.687,.289, 7.707,.341, 7.727,.325, 7.747,.356, 7.767,.300, 7.787,.347,
  7.807,.315, 7.827,.381, 7.847,.307, 7.867,.333, 7.887,.292, 7.907,.338, 7.927,.358, 7.947,.313, 7.967,.328, 7.987,.364,
  8.007,.285, 8.027,.348, 8.047,.320, 8.067,.342, 8.087,.304, 8.107,.370, 8.127,.323, 8.147,.297, 8.167,.353, 8.187,.318,
  8.207,.332, 8.227,.309, 8.247,.362, 8.267,.290, 8.287,.344, 8.307,.327, 8.327,.356, 8.347,.301, 8.367,.335, 8.387,.314,
  1.05,.705, 1.13,.728, 1.21,.664, 1.28,.749, 1.36,.697, 1.44,.722, 1.51,.651, 1.59,.739, 1.67,.673, 1.75,.706,
  1.83,.648, 1.90,.735, 1.98,.669, 2.06,.626, 2.14,.701, 2.22,.643, 2.30,.668, 2.39,.596, 2.45,.687, 2.53,.618,
  2.61,.659, 2.69,.589, 2.77,.642, 2.85,.601, 2.93,.663, 3.01,.582, 3.09,.631, 3.17,.571, 3.25,.612, 3.33,.554,
  3.42,.596, 3.50,.563, 3.58,.611, 3.66,.541, 3.74,.578, 3.82,.532, 3.90,.565, 3.98,.528, 4.06,.541, 4.14,.511,
  4.23,.529, 4.31,.503, 4.39,.552, 4.47,.497, 4.55,.524, 4.63,.489, 4.71,.538, 4.79,.481, 4.87,.509, 4.95,.469,
  5.03,.521, 5.12,.467, 5.20,.498, 5.28,.456, 5.36,.504, 5.44,.451, 5.52,.483, 5.60,.447, 5.68,.492, 5.76,.441,
  5.84,.469, 5.92,.438
];

// second pass over the dense core, 2 to 7.5
const normalCore2 = [
  2.007,.502, 2.022,.556, 2.037,.468, 2.052,.529, 2.067,.543, 2.082,.514, 2.097,.489, 2.112,.558, 2.127,.515, 2.142,.501,
  2.157,.542, 2.172,.474, 2.187,.530, 2.202,.483, 2.217,.563, 2.232,.505, 2.247,.461, 2.262,.520, 2.277,.541, 2.292,.487,
  2.307,.508, 2.322,.466, 2.337,.543, 2.352,.493, 2.367,.521, 2.382,.474, 2.397,.504, 2.412,.545, 2.427,.481, 2.442,.438,
  2.457,.521, 2.472,.492, 2.487,.533, 2.502,.467, 2.517,.498, 2.532,.457, 2.547,.504, 2.562,.520, 2.577,.479, 2.592,.445,
  2.607,.505, 2.622,.487, 2.637,.465, 2.652,.530, 2.667,.454, 2.682,.494, 2.697,.477, 2.712,.513, 2.727,.440, 2.742,.495,
  2.757,.460, 2.772,.514, 2.787,.426, 2.802,.481, 2.817,.495, 2.832,.466, 2.847,.441, 2.862,.516, 2.877,.473, 2.892,.459,
  2.907,.494, 2.922,.426, 2.937,.482, 2.952,.441, 2.967,.521, 2.982,.463, 2.997,.419, 3.012,.470, 3.027,.491, 3.042,.437,
  3.057,.464, 3.072,.422, 3.087,.499, 3.102,.444, 3.117,.472, 3.132,.425, 3.147,.455, 3.162,.502, 3.177,.438, 3.192,.395,
  3.207,.473, 3.222,.444, 3.237,.485, 3.252,.425, 3.267,.456, 3.282,.415, 3.297,.462, 3.312,.473, 3.327,.432, 3.342,.398,
  3.357,.464, 3.372,.446, 3.387,.424, 3.402,.484, 3.417,.408, 3.432,.448, 3.447,.431, 3.462,.473, 3.477,.400, 3.492,.455,
  3.507,.416, 3.522,.470, 3.537,.382, 3.552,.443, 3.567,.457, 3.582,.428, 3.597,.403, 3.612,.473, 3.627,.430, 3.642,.416,
  3.657,.457, 3.672,.389, 3.687,.445, 3.702,.399, 3.717,.479, 3.732,.421, 3.747,.377, 3.762,.436, 3.777,.457, 3.792,.403,
  3.807,.425, 3.822,.383, 3.837,.460, 3.852,.410, 3.867,.438, 3.882,.391, 3.897,.421, 3.912,.463, 3.927,.399, 3.942,.356,
  3.957,.439, 3.972,.410, 3.987,.451, 4.002,.387, 4.017,.418, 4.032,.377, 4.047,.424, 4.062,.440, 4.077,.399, 4.092,.365,
  4.107,.427, 4.122,.409, 4.137,.387, 4.152,.452, 4.167,.376, 4.182,.416, 4.197,.399, 4.212,.437, 4.227,.364, 4.242,.419,
  4.257,.384, 4.272,.438, 4.287,.350, 4.302,.407, 4.317,.421, 4.332,.392, 4.347,.367, 4.362,.442, 4.377,.399, 4.392,.385,
  4.407,.422, 4.422,.354, 4.437,.410, 4.452,.369, 4.467,.449, 4.482,.391, 4.497,.347, 4.512,.402, 4.527,.423, 4.542,.369,
  4.557,.396, 4.572,.354, 4.587,.431, 4.602,.377, 4.617,.405, 4.632,.358, 4.647,.388, 4.662,.435, 4.677,.371, 4.692,.328,
  4.707,.408, 4.722,.379, 4.737,.420, 4.752,.360, 4.767,.391, 4.782,.350, 4.797,.397, 4.812,.409, 4.827,.368, 4.842,.334,
  4.857,.400, 4.872,.382, 4.887,.360, 4.902,.422, 4.917,.346, 4.932,.386, 4.947,.369, 4.962,.411, 4.977,.338, 4.992,.393,
  5.007,.354, 5.022,.408, 5.037,.320, 5.052,.381, 5.067,.395, 5.082,.366, 5.097,.341, 5.112,.413, 5.127,.370, 5.142,.356,
  5.157,.397, 5.172,.329, 5.187,.385, 5.202,.341, 5.217,.421, 5.232,.363, 5.247,.319, 5.262,.378, 5.277,.399, 5.292,.345,
  5.307,.369, 5.322,.327, 5.337,.404, 5.352,.354, 5.367,.382, 5.382,.335, 5.397,.365, 5.412,.410, 5.427,.346, 5.442,.303,
  5.457,.386, 5.472,.357, 5.487,.398, 5.502,.335, 5.517,.366, 5.532,.325, 5.547,.372, 5.562,.388, 5.577,.347, 5.592,.313,
  5.607,.377, 5.622,.359, 5.637,.337, 5.652,.402, 5.667,.326, 5.682,.366, 5.697,.349, 5.712,.389, 5.727,.316, 5.742,.371,
  5.757,.336, 5.772,.390, 5.787,.302, 5.802,.360, 5.817,.374, 5.832,.345, 5.847,.320, 5.862,.395, 5.877,.352, 5.892,.338,
  5.907,.377, 5.922,.309, 5.937,.365, 5.952,.324, 5.967,.404, 5.982,.346, 5.997,.302, 6.012,.359, 6.027,.380, 6.042,.326,
  6.057,.353, 6.072,.311, 6.087,.388, 6.102,.336, 6.117,.364, 6.132,.317, 6.147,.347, 6.162,.394, 6.177,.330, 6.192,.287,
  6.207,.368, 6.222,.339, 6.237,.380, 6.252,.320, 6.267,.351, 6.282,.310, 6.297,.357, 6.312,.371, 6.327,.330, 6.342,.296,
  6.357,.362, 6.372,.344, 6.387,.322, 6.402,.385, 6.417,.309, 6.432,.349, 6.447,.332, 6.462,.374, 6.477,.301, 6.492,.356,
  6.507,.320, 6.522,.374, 6.537,.286, 6.552,.347, 6.567,.361, 6.582,.332, 6.597,.307, 6.612,.381, 6.627,.338, 6.642,.324,
  6.657,.365, 6.672,.297, 6.687,.353, 6.702,.310, 6.717,.390, 6.732,.332, 6.747,.288, 6.762,.347, 6.777,.368, 6.792,.314,
  6.807,.340, 6.822,.298, 6.837,.375, 6.852,.325, 6.867,.353, 6.882,.306, 6.897,.336, 6.912,.382, 6.927,.318, 6.942,.275,
  6.957,.358, 6.972,.329, 6.987,.370, 7.002,.309, 7.017,.340, 7.032,.299, 7.047,.346, 7.062,.362, 7.077,.321, 7.092,.287,
  7.107,.352, 7.122,.334, 7.137,.312, 7.152,.377, 7.167,.301, 7.182,.341, 7.197,.324, 7.212,.366, 7.227,.293, 7.242,.348,
  7.257,.313, 7.272,.367, 7.287,.279, 7.302,.339, 7.317,.353, 7.332,.324, 7.347,.299, 7.362,.374, 7.377,.331, 7.392,.317,
  7.407,.358, 7.422,.290, 7.437,.346, 7.452,.305, 7.467,.385, 7.482,.327, 7.497,.283
];

// outer parts of the dense core, above and below, 3 to 8
const normalWide = [
  3.016,.503, 3.036,.414, 3.056,.520, 3.076,.400, 3.096,.539, 3.116,.402, 3.136,.506, 3.156,.386, 3.176,.550, 3.196,.406,
  3.216,.518, 3.236,.386, 3.256,.506, 3.276,.393, 3.296,.560, 3.316,.372, 3.336,.509, 3.356,.394, 3.376,.492, 3.396,.383,
  3.416,.526, 3.436,.394, 3.456,.513, 3.476,.380, 3.496,.483, 3.516,.383, 3.536,.496, 3.556,.367, 3.576,.515, 3.596,.387,
  3.616,.482, 3.636,.367, 3.656,.526, 3.676,.374, 3.696,.499, 3.716,.353, 3.736,.482, 3.756,.375, 3.776,.536, 3.796,.364,
  3.816,.485, 3.836,.375, 3.856,.468, 3.876,.361, 3.896,.507, 3.916,.363, 3.936,.489, 3.956,.347, 3.976,.459, 3.996,.367,
  4.016,.472, 4.036,.348, 4.056,.491, 4.076,.355, 4.096,.463, 4.116,.335, 4.136,.503, 4.156,.357, 4.176,.476, 4.196,.346,
  4.216,.460, 4.236,.358, 4.256,.514, 4.276,.344, 4.296,.468, 4.316,.347, 4.336,.447, 4.356,.331, 4.376,.486, 4.396,.351,
  4.416,.469, 4.436,.332, 4.456,.439, 4.476,.339, 4.496,.456, 4.516,.319, 4.536,.471, 4.556,.341, 4.576,.443, 4.596,.330,
  4.616,.483, 4.636,.342, 4.656,.456, 4.676,.328, 4.696,.444, 4.716,.332, 4.736,.495, 4.756,.316, 4.776,.449, 4.796,.336,
  4.816,.428, 4.836,.317, 4.856,.467, 4.876,.324, 4.896,.454, 4.916,.305, 4.936,.421, 4.956,.327, 4.976,.438, 4.996,.316,
  5.016,.453, 5.036,.328, 5.056,.425, 5.076,.314, 5.096,.469, 5.116,.318, 5.136,.439, 5.156,.302, 5.176,.427, 5.196,.322,
  5.216,.478, 5.236,.304, 5.256,.432, 5.276,.311, 5.296,.415, 5.316,.292, 5.336,.451, 5.356,.314, 5.376,.438, 5.396,.303,
  5.416,.406, 5.436,.317, 5.456,.423, 5.476,.303, 5.496,.442, 5.516,.307, 5.536,.411, 5.556,.291, 5.576,.455, 5.596,.311,
  5.616,.426, 5.636,.294, 5.656,.414, 5.676,.301, 5.696,.468, 5.716,.283, 5.736,.420, 5.756,.305, 5.776,.403, 5.796,.294,
  5.816,.439, 5.836,.307, 5.856,.426, 5.876,.293, 5.896,.396, 5.916,.298, 5.936,.411, 5.956,.282, 5.976,.430, 5.996,.302,
  6.016,.400, 6.036,.285, 6.056,.444, 6.076,.292, 6.096,.417, 6.116,.274, 6.136,.403, 6.156,.296, 6.176,.457, 6.196,.285,
  6.216,.409, 6.236,.299, 6.256,.392, 6.276,.285, 6.296,.431, 6.316,.290, 6.336,.416, 6.356,.274, 6.376,.386, 6.396,.294,
  6.416,.401, 6.436,.277, 6.456,.420, 6.476,.284, 6.496,.392, 6.516,.267, 6.536,.435, 6.556,.289, 6.576,.408, 6.596,.278,
  6.616,.395, 6.636,.293, 6.656,.449, 6.676,.279, 6.696,.403, 6.716,.284, 6.736,.384, 6.756,.268, 6.776,.423, 6.796,.288,
  6.816,.409, 6.836,.272, 6.856,.379, 6.876,.279, 6.896,.396, 6.916,.262, 6.936,.414, 6.956,.284, 6.976,.386, 6.996,.273,
  7.016,.428, 7.036,.287, 7.056,.401, 7.076,.273, 7.096,.389, 7.116,.280, 7.136,.443, 7.156,.264, 7.176,.397, 7.196,.284,
  7.216,.380, 7.236,.269, 7.256,.419, 7.276,.276, 7.296,.406, 7.316,.260, 7.336,.376, 7.356,.282, 7.376,.393, 7.396,.271,
  7.416,.411, 7.436,.286, 7.456,.383, 7.476,.272, 7.496,.427, 7.516,.279, 7.536,.400, 7.556,.263, 7.576,.388, 7.596,.283,
  7.616,.442, 7.636,.268, 7.656,.396, 7.676,.275, 7.696,.379, 7.716,.259, 7.736,.418, 7.756,.281, 7.776,.405, 7.796,.270,
  7.816,.375, 7.836,.286, 7.856,.392, 7.876,.272, 7.896,.411, 7.916,.279, 7.936,.383, 7.956,.263, 7.976,.427, 7.996,.283
];

// outliers above the trend
const outlierHigh = [
  2.28,1.524, 0.43,1.439, 1.46,1.422, 2.46,1.413, 3.56,1.429, 1.78,1.329, 1.76,1.312, 1.29,1.29, 1.93,1.284, 2.03,1.287,
  2.57,1.292, 3.04,1.272, 1.67,1.255, 0.43,1.236, 3.04,1.229, 3.42,1.25, 2.13,1.22, 2.75,1.222, 1.50,1.207, 3.52,1.204,
  3.49,1.188, 3.62,1.172, 1.06,1.16, 1.55,1.171, 2.30,1.165, 2.53,1.154, 2.66,1.169, 2.70,1.18, 2.90,1.172, 1.46,1.13,
  1.49,1.126, 1.65,1.141, 1.84,1.147, 1.40,1.114, 2.07,1.124, 2.19,1.111, 2.16,1.102, 1.83,1.109, 1.66,1.109, 1.80,1.095,
  2.63,1.111, 2.89,1.121, 2.72,1.1, 2.71,1.083, 2.92,1.089, 3.09,1.086, 3.16,1.087, 3.80,1.088, 4.39,1.097, 4.58,1.088,
  4.67,1.082, 4.89,1.112, 1.21,1.077, 1.06,1.057, 1.20,1.059, 1.34,1.057, 1.66,1.079, 1.97,1.08, 2.10,1.089, 2.38,1.08,
  2.42,1.077, 2.64,1.08, 2.60,1.062, 2.19,1.056, 2.27,1.056, 3.33,1.062, 3.52,1.074, 3.16,1.048, 3.23,1.053, 3.36,1.045,
  0.83,1.04, 1.36,1.04, 1.42,1.034, 1.50,1.049, 1.57,1.045, 1.63,1.065, 1.86,1.041, 1.99,1.037, 2.05,1.031, 2.13,1.025,
  2.16,1.019, 2.32,1.04, 2.48,1.043, 2.33,1.017, 2.34,1.004, 2.28,1.004, 1.52,1.023, 1.62,1.014, 1.73,1.016, 1.35,1.002,
  1.38,1.007, 1.48,1.009, 1.12,1.004, 1.19,.999, 1.52,.999, 2.78,1.011, 3.05,1.019, 3.35,1.009, 3.71,1.018, 3.69,.999,
  1.08,.982, 1.30,.983, 1.46,.982, 1.63,.982, 1.76,.984, 1.94,.98, 1.27,.975, 1.28,.955, 1.87,.968, 2.15,.956,
  2.24,.962, 2.28,.969, 2.42,.979, 2.48,.984, 2.68,.974, 2.72,.99, 2.86,.984, 2.96,.994, 3.08,.984, 3.42,.981,
  3.47,.967, 3.77,.981, 4.25,.987, 4.56,.962, 4.92,.95, 1.46,.942, 1.50,.94, 1.62,.943, 1.98,.948, 1.62,.923,
  1.68,.924, 1.69,.916, 1.91,.924, 2.08,.916, 2.13,.908, 2.19,.931, 2.22,.921, 2.25,.899, 2.20,.892, 2.39,.934,
  2.36,.921, 2.44,.938, 2.59,.943, 2.69,.923, 2.73,.94, 2.94,.95, 3.09,.941, 3.12,.955, 2.52,.906, 2.55,.89,
  2.97,.902, 3.01,.907, 3.20,.886, 3.35,.906, 3.35,.884, 3.41,.878, 3.52,.933, 3.59,.908, 4.04,.929, 4.21,.913,
  4.28,.923, 4.38,.929, 4.63,.921, 4.64,.938, 4.80,.911, 4.10,.884, 4.16,.889, 4.17,.877, 2.63,.877, 2.68,.876,
  2.83,.877, 3.04,.862, 3.20,.866, 3.41,.862, 3.63,.863,
  2.27,.856, 2.36,.856, 2.58,.847, 2.63,.843, 3.03,.836, 3.13,.835, 2.85,.825, 3.26,.823, 3.46,.851, 3.87,.839,
  3.97,.835, 4.35,.833, 4.45,.835, 4.97,.851, 4.06,.856, 4.37,.858, 2.92,.807, 2.99,.802, 3.08,.805, 2.90,.799,
  3.55,.814, 3.52,.805, 4.06,.804, 4.33,.801, 4.52,.806, 4.78,.812, 4.91,.802, 3.00,.784, 3.09,.786, 3.39,.788,
  3.46,.783, 3.17,.776, 3.22,.765, 3.41,.757, 3.56,.754, 3.86,.776, 4.09,.779, 4.11,.764, 4.47,.770, 4.66,.775,
  4.74,.762, 3.78,.765, 4.19,.740, 4.33,.740, 4.62,.735, 4.59,.752, 4.91,.740, 3.49,.741, 3.54,.739, 3.81,.727,
  3.96,.724, 3.80,.715, 4.12,.713, 4.04,.700, 4.18,.696, 4.36,.699, 4.49,.703, 4.56,.691, 4.71,.685, 4.67,.675,
  4.85,.674, 4.97,.693,
  6.09,.954, 6.56,.938, 7.29,.928, 7.34,.928, 5.73,.902, 5.26,.863, 5.92,.852, 8.45,.894, 5.38,.835, 5.46,.828,
  5.37,.817, 5.52,.810, 5.07,.807, 5.78,.803, 6.19,.834, 6.24,.814, 5.40,.788, 5.52,.784, 5.58,.775, 5.07,.778,
  4.90,.771, 5.81,.774, 6.39,.770, 6.99,.769, 5.10,.751, 5.07,.748, 4.77,.742, 5.61,.745, 5.67,.750, 5.77,.737,
  5.70,.731, 6.74,.741, 7.35,.735, 5.06,.717, 5.66,.717, 5.72,.705, 5.75,.705, 6.98,.718, 7.69,.713, 7.76,.723,
  7.61,.702, 7.08,.703, 4.80,.710, 5.17,.700, 5.23,.690, 5.33,.682, 5.52,.689, 5.87,.689, 6.40,.691, 8.01,.691,
  7.99,.667, 8.48,.667, 8.46,.653, 9.78,.649, 9.26,.621, 10.06,.532, 5.16,.672, 5.54,.670, 6.01,.668, 6.73,.665,
  5.02,.646, 5.35,.644, 5.47,.647, 5.58,.646, 5.69,.636, 5.59,.621, 5.79,.609, 6.06,.628, 6.24,.630, 6.33,.638,
  6.40,.644, 6.52,.644, 6.42,.632, 6.52,.621, 6.31,.599, 6.42,.595, 5.80,.597, 6.21,.603, 5.99,.591, 6.15,.581,
  6.70,.582, 6.91,.595, 7.13,.609, 7.40,.605, 7.58,.590, 7.83,.625, 8.08,.600, 7.86,.585, 7.92,.590, 7.89,.571,
  7.51,.576, 7.63,.559, 7.99,.565, 8.35,.568, 8.70,.556, 9.11,.547, 6.97,.579, 7.07,.565,
  5.23,1.601, 6.36,1.293, 5.11,1.195, 6.27,1.185, 5.51,1.028, 5.19,1.018, 5.27,1.011
];

// outliers below the trend
const outlierLow = [
  2.17,.377, 2.94,.339, 3.38,.322, 3.73,.305, 3.90,.302, 4.23,.295, 4.40,.302, 4.52,.285, 4.59,.286, 4.70,.288,
  4.74,.285, 4.79,.273, 4.84,.273,
  5.06,.278, 5.10,.259, 5.31,.257, 5.35,.265, 5.43,.258, 5.57,.265, 5.77,.264, 5.80,.242, 5.86,.240, 5.94,.263,
  5.97,.229, 6.06,.256, 6.12,.252, 6.27,.244, 6.38,.214, 6.45,.212, 6.49,.203, 6.48,.233, 6.56,.252, 6.58,.244,
  6.69,.248, 6.80,.246, 6.91,.232, 6.95,.243, 7.06,.229, 7.19,.226, 7.21,.243, 7.28,.241, 7.39,.215, 7.44,.242,
  7.46,.232, 7.54,.233, 7.62,.235, 7.66,.215, 7.75,.242, 8.00,.233, 8.12,.232, 8.27,.237, 8.29,.207, 8.36,.218,
  8.48,.235, 8.52,.242, 8.73,.203, 8.77,.227, 8.89,.226, 8.96,.214, 9.07,.212, 9.12,.199, 9.16,.224, 9.27,.231,
  9.32,.189, 9.72,.230, 9.88,.205, 10.04,.232, 10.51,.212
];

const width = 1200;
const height = 900;
const margin = {top: 123, right: 63, bottom: 153, left: 123};
const fontSize = 24;

function toPoints(flat) {
    const out = [];
    for (let i = 0; i < flat.length; i += 2) out.push({x: flat[i], y: flat[i + 1]});
    return out;
}

const normal = [normalA, normalB, normalC, normalD, normalE, normalF, normalCore, normalCore2, normalWide]
    .flatMap(toPoints);
const outliers = [outlierHigh, outlierLow].flatMap(toPoints);

const svg = d3.select('#chart').append('svg')
    .attr('width', width)
    .attr('height', height);

const x = d3.scaleLinear().domain(xDomain).range([margin.left, width - margin.right]);
const y = d3.scaleLinear().domain(yDomain).range([height - margin.bottom, margin.top]);

const pt = 2.8;

function drawPoints(data, color) {
    svg.append('g')
        .attr('fill', color)
        .selectAll('rect')
        .data(data)
        .join('rect')
        .attr('x', d => x(d.x) - pt / 2)
        .attr('y', d => y(d.y) - pt / 2)
        .attr('width', pt)
        .attr('height', pt);
}

drawPoints(normal, legendColors[0]);
drawPoints(outliers, legendColors[1]);

// fitted trend
const trend = trendX.map((v, i) => [v, trendY[i]]);
svg.append('path')
    .datum(trend)
    .attr('fill', 'none')
    .attr('stroke', '#0000ff')
    .attr('stroke-width', 1.3)
    .attr('d', d3.line().x(d => x(d[0])).y(d => y(d[1])).curve(d3.curveMonotoneX));

// axes
const xAxis = svg.append('g')
    .attr('transform', `translate(0,${height - margin.bottom})`)
    .call(d3.axisBottom(x).tickValues(xTicks).tickFormat(d3.format('d')).tickSize(15).tickPadding(22));

const yAxis = svg.append('g')
    .attr('transform', `translate(${margin.left},0)`)
    .call(d3.axisLeft(y).tickValues(yTicks).tickFormat(d3.format('.1f')).tickSize(15));

[xAxis, yAxis].forEach(g => {
    g.select('.domain').remove();
    g.selectAll('.tick line').attr('stroke', '#000').attr('stroke-width', 1.3);
    g.selectAll('.tick text').attr('font-size', fontSize).attr('fill', '#000')
        .attr('font-family', '"Liberation Sans", Arial, Helvetica, sans-serif');
});

yAxis.selectAll('.tick text')
    .attr('transform', 'rotate(-90)')
    .attr('x', 0)
    .attr('y', -39)
    .attr('dy', 0)
    .attr('text-anchor', 'middle');

// plot box
svg.append('rect')
    .attr('x', margin.left)
    .attr('y', margin.top)
    .attr('width', width - margin.left - margin.right)
    .attr('height', height - margin.top - margin.bottom)
    .attr('fill', 'none')
    .attr('stroke', '#000')
    .attr('stroke-width', 1.3);

// axis titles
svg.append('text')
    .attr('x', (margin.left + width - margin.right) / 2)
    .attr('y', 861)
    .attr('text-anchor', 'middle')
    .attr('font-size', fontSize)
    .text('Average log-expression');

svg.append('text')
    .attr('transform', `translate(31,${(margin.top + height - margin.bottom) / 2}) rotate(-90)`)
    .attr('text-anchor', 'middle')
    .attr('font-size', fontSize)
    .text('sqrt(sigma)');

// legend
const legend = svg.append('g');
legend.append('rect')
    .attr('x', 999.5)
    .attr('y', margin.top)
    .attr('width', width - margin.right - 999.5)
    .attr('height', 89.5)
    .attr('fill', '#fff')
    .attr('stroke', '#000')
    .attr('stroke-width', 1.3);

legendLabels.forEach((label, i) => {
    legend.append('circle')
        .attr('cx', 1022)
        .attr('cy', 153 + i * 30)
        .attr('r', 5.5)
        .attr('fill', legendColors[i]);
    legend.append('text')
        .attr('x', 1046)
        .attr('y', 162 + i * 30)
        .attr('font-size', fontSize)
        .text(label);
});
</script>
</body>
</html>
